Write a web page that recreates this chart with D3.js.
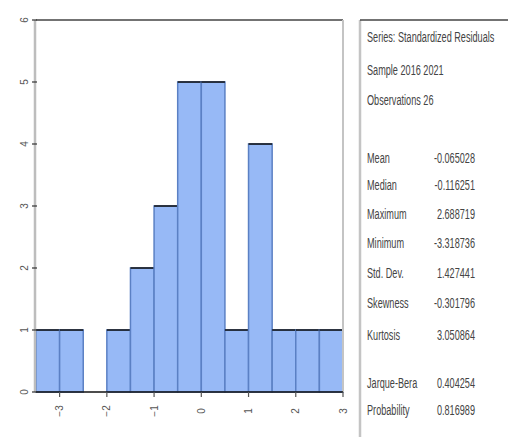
<!DOCTYPE html>
<html>
<head>
<meta charset="utf-8">
<script src="https://cdn.jsdelivr.net/npm/d3@7.9.0/dist/d3.min.js"></script>
<style>
  body { margin: 0; background: #fff; }
  svg { display: block; font-family: "Liberation Sans", Arial, sans-serif; }
</style>
</head>
<body>
<svg id="chart" width="508" height="437"></svg>
<script>
// histogram bins (lower edge, upper edge) and counts
const binStarts = [-3.5, -3, -2.5, -2, -1.5, -1, -0.5, 0, 0.5, 1, 1.5, 2, 2.5];
const binWidth = 0.5;
const counts = [1, 1, 0, 1, 2, 3, 5, 5, 1, 4, 1, 1, 1];
const xTicks = [-3, -2, -1, 0, 1, 2, 3];
const yTicks = [0, 1, 2, 3, 4, 5, 6];

// stats box text
const headerLines = ['Series: Standardized Residuals', 'Sample 2016 2021', 'Observations 26'];
const statLabels = ['Mean', 'Median', 'Maximum', 'Minimum', 'Std. Dev.', 'Skewness', 'Kurtosis'];
const statValues = ['-0.065028', '-0.116251', '2.688719', '-3.318736', '1.427441', '-0.301796', '3.050864'];
const testLabels = ['Jarque-Bera', 'Probability'];
const testValues = ['0.404254', '0.816989'];

const svg = d3.select('#chart');
const plotL = 36, plotR = 343, plotT = 20, plotB = 392;

const x = d3.scaleLinear().domain([-3.5, 3.0]).range([plotL, plotR]);
const y = d3.scaleLinear().domain([0, 6]).range([plotB, plotT]);

// bars
const bars = svg.append('g');
binStarts.forEach((b, i) => {
  if (counts[i] === 0) return;
  const x0 = x(b), x1 = x(b + binWidth), yTop = y(counts[i]);
  bars.append('rect')
    .attr('x', x0).attr('y', yTop)
    .attr('width', x1 - x0).attr('height', plotB - yTop)
    .attr('fill', '#97b9f6')
    .attr('stroke', '#5b80c4').attr('stroke-width', 1.5);
  bars.append('line')
    .attr('x1', x0).attr('x2', x1).attr('y1', yTop).attr('y2', yTop)
    .attr('stroke', '#111').attr('stroke-width', 1.5);
});

// frame
svg.append('line').attr('x1', plotL).attr('x2', plotR).attr('y1', plotT).attr('y2', plotT)
  .attr('stroke', '#444').attr('stroke-width', 1.5);
svg.append('line').attr('x1', plotR).attr('x2', plotR).attr('y1', plotT).attr('y2', plotB)
  .attr('stroke', '#c4c4c4').attr('stroke-width', 2);
svg.append('line').attr('x1', plotL - 1).attr('x2', plotL - 1).attr('y1', plotT).attr('y2', plotB)
  .attr('stroke', '#bdbdbd').attr('stroke-width', 2.5);
svg.append('line').attr('x1', plotL).attr('x2', plotR).attr('y1', plotB).attr('y2', plotB)
  .attr('stroke', '#111').attr('stroke-width', 1.5);

// y ticks
const yg = svg.append('g');
yTicks.forEach(t => {
  yg.append('line').attr('x1', plotL - 4).attr('x2', plotL + 1).attr('y1', y(t)).attr('y2', y(t))
    .attr('stroke', '#333').attr('stroke-width', 1.2);
  yg.append('text')
    .attr('transform', `translate(28,${y(t)}) rotate(-90)`)
    .attr('text-anchor', 'middle')
    .attr('font-size', 10).attr('fill', '#555')
    .text(d3.format('.0f')(t));
});

// x ticks
const xg = svg.append('g');
xTicks.forEach(t => {
  xg.append('line').attr('x1', x(t)).attr('x2', x(t)).attr('y1', plotB).attr('y2', plotB + 5)
    .attr('stroke', '#555').attr('stroke-width', 1.2);
  xg.append('text')
    .attr('transform', `translate(${x(t) + 3.5},${plotB + 19}) rotate(-90)`)
    .attr('text-anchor', 'middle')
    .attr('font-size', 10).attr('fill', '#555')
    .text(t < 0 ? '\u2212' + Math.abs(t) : String(t));
});

// stats panel
const px = 360;
svg.append('line').attr('x1', px).attr('x2', px).attr('y1', plotT).attr('y2', 437)
  .attr('stroke', '#c4c4c4').attr('stroke-width', 2.5);
svg.append('line').attr('x1', px).attr('x2', 508).attr('y1', plotT).attr('y2', plotT)
  .attr('stroke', '#444').attr('stroke-width', 1.5);

const sx = 0.63;
function txt(tx, ty, s, anchor) {
  svg.append('text')
    .attr('transform', `translate(${tx},${ty}) scale(${sx},1)`)
    .attr('text-anchor', anchor || 'start')
    .attr('font-size', 14.5).attr('fill', '#444')
    .text(s);
}
const headerY = [42, 75, 105];
headerLines.forEach((s, i) => txt(367, headerY[i], s));
const statY = [163, 190, 219, 248, 278, 308, 340];
statLabels.forEach((s, i) => {
  txt(367, statY[i], s);
  txt(475, statY[i], statValues[i], 'end');
});
const testY = [388, 415];
testLabels.forEach((s, i) => {
  txt(367, testY[i], s);
  txt(475, testY[i], testValues[i], 'end');
});
</script>
</body>
</html>
